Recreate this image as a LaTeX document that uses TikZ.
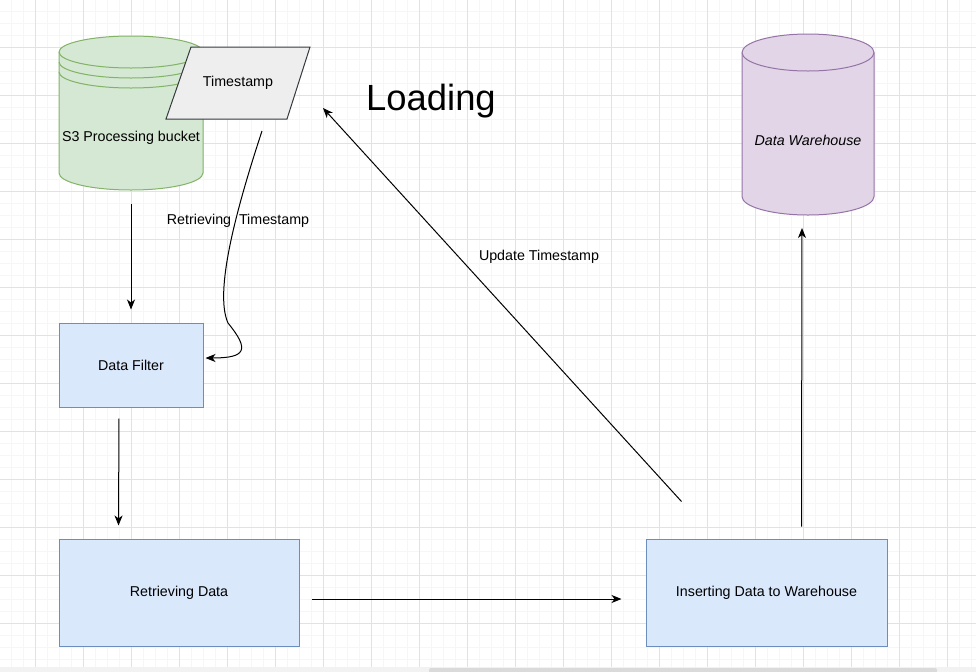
\documentclass[tikz,border=0pt]{standalone}
\usepackage{fontspec}
\setmainfont{Liberation Sans}
\usetikzlibrary{arrows.meta,calc}
\definecolor{gridmajor}{HTML}{E2E2E2}
\definecolor{gridminor}{HTML}{F6F6F6}
\definecolor{s3fill}{HTML}{D5E8D4}
\definecolor{s3line}{HTML}{82B366}
\definecolor{dwfill}{HTML}{E1D5E7}
\definecolor{dwline}{HTML}{9673A6}
\definecolor{boxfill}{HTML}{DAE8FC}
\definecolor{boxline}{HTML}{6C8EBF}
\definecolor{tsfill}{HTML}{EEEEEE}
\definecolor{tsline}{HTML}{36393D}
\definecolor{barbg}{HTML}{F2F2F2}
\definecolor{barfg}{HTML}{DADADA}
\tikzset{
  lbl/.style={font=\fontsize{10.7}{13}\selectfont, inner sep=0pt},
  procbox/.style={draw=boxline, fill=boxfill, line width=0.75pt, inner sep=0pt, font=\fontsize{10.7}{13}\selectfont},
  anchorbox/.style={inner sep=0pt, outer sep=0pt},
  arr/.style={line width=0.75pt, -{Stealth[length=7.5pt,width=6pt,inset=2.2pt]}},
  cylline/.style={line width=0.75pt}
}
\begin{document}
\begin{tikzpicture}[x=0.75pt,y=-0.75pt]
\useasboundingbox (0,0) rectangle (976,672);
\fill[white] (0,0) rectangle (976,672);
% grid
\foreach \x in {11,23,...,971} \draw[gridminor,line width=0.75pt] (\x,0) -- (\x,667);
\foreach \y in {11,23,...,659} \draw[gridminor,line width=0.75pt] (0,\y) -- (976,\y);
\foreach \x in {35,83,...,947} \draw[gridmajor,line width=0.75pt] (\x,0) -- (\x,667);
\foreach \y in {47,95,...,623} \draw[gridmajor,line width=0.75pt] (0,\y) -- (976,\y);
% bottom bar
\fill[barbg] (0,667) rectangle (976,672);
\fill[barfg, rounded corners=1.5pt] (429,668) rectangle (937,673);

% S3 cylinder
\node[anchorbox, minimum width=108pt, minimum height=116.25pt] (s3) at (131,112.5) {};
\filldraw[fill=s3fill, draw=s3line, cylline] (59,52) -- (59,173)
  arc[start angle=180,end angle=360,x radius=54pt,y radius=12.75pt]
  -- (203,52) arc[start angle=0,end angle=180,x radius=54pt,y radius=12pt] -- cycle;
\foreach \yy in {52,62,72}
  \draw[s3line, cylline] (59,\yy) arc[start angle=180,end angle=360,x radius=54pt,y radius=12pt];
\node[lbl] (s3text) at (131,138) {S3 Processing bucket};

% Timestamp parallelogram
\node[anchorbox, minimum width=108pt, minimum height=54pt] (ts) at (238,83) {};
\filldraw[fill=tsfill, draw=tsline, cylline] (191,47) -- (310,47) -- (287,119) -- (166,119) -- cycle;
\node[lbl] (tstext) at (238,83) {Timestamp};

% Data Warehouse cylinder
\node[anchorbox, minimum width=99pt, minimum height=135.75pt] (dw) at (808,124.5) {};
\filldraw[fill=dwfill, draw=dwline, cylline] (742,52.5) -- (742,196.5)
  arc[start angle=180,end angle=360,x radius=49.5pt,y radius=13.875pt]
  -- (874,52.5) arc[start angle=0,end angle=180,x radius=49.5pt,y radius=13.875pt] -- cycle;
\draw[dwline, cylline] (742,52.5) arc[start angle=180,end angle=360,x radius=49.5pt,y radius=13.875pt];
\node[lbl, font=\fontsize{10.7}{13}\selectfont\itshape] (dwtext) at (808,140) {Data Warehouse};

% Process boxes
\node[procbox, minimum width=108pt, minimum height=63pt] (filter) at (131,365) {Data Filter};
\node[procbox, minimum width=180pt, minimum height=80.25pt] (retr) at (179,592.5) {Retrieving Data};
\node[procbox, minimum width=180.75pt, minimum height=80.25pt] (ins) at (766.5,592.5) {Inserting Data to Warehouse};

% Title
\node[inner sep=0pt, font=\fontsize{27.3}{32}\selectfont] (title) at (431,101) {Loading};

% Connectors
\draw[arr] ($(s3.south)+(0,14)$) -- ($(filter.north)+(0,-13)$);
\draw[arr] ($(filter.south)+(-12,11)$) -- ($(retr.north west)+(60,-13)$);
\draw[arr] ($(retr.east)+(12,6.5)$) -- ($(ins.west)+(-24,6.5)$);
\draw[arr] ($(ins.north west)+(156,-12)$) -- ($(dw.south west)+(60,13)$);
\draw[arr] ($(ins.north west)+(36,-37)$) -- ($(ts.east)+(13,25)$);
\draw[arr] ($(ts.south)+(24,12)$) .. controls (236,210) and (214,292) .. (228,323)
  .. controls (250,350) and (246,358) .. ($(filter.east)+(2,-7)$);

% Edge labels
\node[lbl] (lblret) at (238,221) {Retrieving\ \ Timestamp};
\node[lbl] (lblupd) at (539,257) {Update Timestamp};
\end{tikzpicture}
\end{document}
